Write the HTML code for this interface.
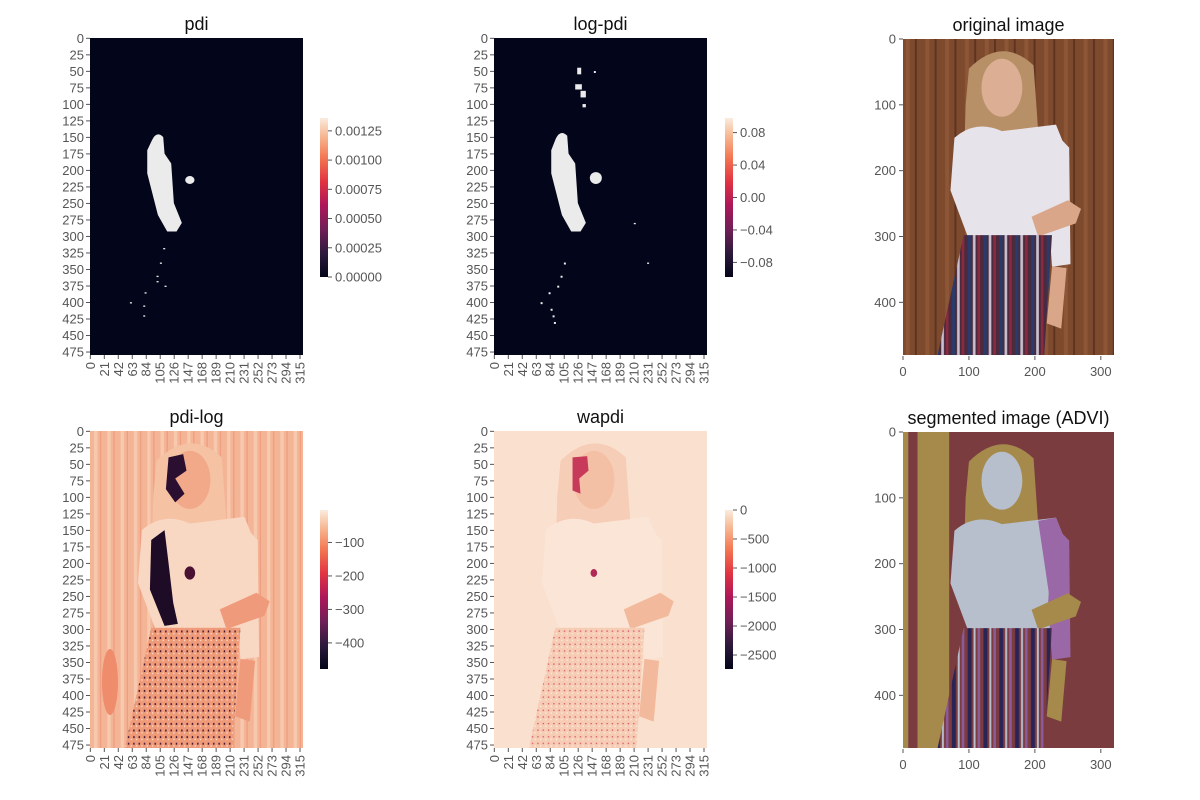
<!DOCTYPE html>
<html><head><meta charset="utf-8"><style>
html,body{margin:0;padding:0;background:#fff;}
svg{display:block;font-family:"Liberation Sans","DejaVu Sans",sans-serif;}
</style></head><body>
<svg id="fig" width="1200" height="800" viewBox="0 0 1200 800" xmlns="http://www.w3.org/2000/svg">
<defs>
<linearGradient id="rocket" x1="0" y1="1" x2="0" y2="0">
<stop offset="0" stop-color="#03051a"/><stop offset="0.15" stop-color="#2d1a3d"/>
<stop offset="0.3" stop-color="#701f57"/><stop offset="0.45" stop-color="#ad1759"/>
<stop offset="0.6" stop-color="#e13342"/><stop offset="0.75" stop-color="#f37651"/>
<stop offset="0.88" stop-color="#f6b48f"/><stop offset="1" stop-color="#faebdd"/>
</linearGradient>
<pattern id="wood" width="30" height="480" patternUnits="userSpaceOnUse">
<rect width="30" height="480" fill="#7d4a2e"/><rect x="4" width="6" height="480" fill="#8c5637"/><rect x="18" width="3" height="480" fill="#5e3420"/>
</pattern>
<pattern id="skirtp" width="24" height="480" patternUnits="userSpaceOnUse">
<rect width="24" height="480" fill="#4a2a3c"/><rect x="2" width="5" height="480" fill="#2a3a6a"/><rect x="10" width="4" height="480" fill="#c8c0d0"/><rect x="17" width="4" height="480" fill="#8a2a40"/>
</pattern>
<pattern id="segskirt" width="24" height="480" patternUnits="userSpaceOnUse">
<rect width="24" height="480" fill="#7b3c40"/><rect x="2" width="6" height="480" fill="#2a2456"/><rect x="11" width="3" height="480" fill="#b7bfcd"/><rect x="17" width="4" height="480" fill="#8a5a9a"/>
</pattern>
<pattern id="peach" width="20" height="480" patternUnits="userSpaceOnUse">
<rect width="20" height="480" fill="#f4b596"/><rect x="6" width="5" height="480" fill="#f7c9ae"/><rect x="15" width="2" height="480" fill="#ef9e80"/>
</pattern>
<pattern id="dots" width="8" height="10" patternUnits="userSpaceOnUse">
<rect width="8" height="10" fill="#ef9a78"/><rect x="1" y="2" width="2" height="3" fill="#3a1030"/><rect x="5" y="6" width="2" height="2" fill="#fbe1d0"/>
</pattern>
<pattern id="wdots" width="8" height="10" patternUnits="userSpaceOnUse">
<rect width="8" height="10" fill="#f6cdb4"/><rect x="1" y="2" width="2" height="2" fill="#d8506a"/><rect x="5" y="6" width="2" height="2" fill="#fdeee2"/>
</pattern>
</defs>
</svg>
<script>
const NS="http://www.w3.org/2000/svg";
const fig=document.getElementById('fig');
// ---- data arrays ----
const heatYTicks=[0,25,50,75,100,125,150,175,200,225,250,275,300,325,350,375,400,425,450,475];
const heatXTicks=[0,21,42,63,84,105,126,147,168,189,210,231,252,273,294,315];
const imgXTicks=[0,100,200,300];
const imgYTicks=[0,100,200,300,400];
const cbPdiTicks=[0.00000,0.00025,0.00050,0.00075,0.00100,0.00125];
const cbPdiRange=[0,0.00136];
const cbLogPdiTicks=[-0.08,-0.04,0.00,0.04,0.08];
const cbLogPdiRange=[-0.098,0.098];
const cbPdiLogTicks=[-400,-300,-200,-100];
const cbPdiLogRange=[-478,-3];
const cbWapdiTicks=[-2500,-2000,-1500,-1000,-500,0];
const cbWapdiRange=[-2741,0];
const imgW=320, imgH=480;

function el(tag,attrs,parent,name,inter){const e=document.createElementNS(NS,tag);for(const k in attrs)e.setAttribute(k,attrs[k]);


(parent||fig).appendChild(e);return e;}
function txt(x,y,s,attrs,parent,name){const t=el('text',Object.assign({x:x,y:y,'font-size':13,fill:'#555'},attrs),parent,name,false);t.textContent=s;return t;}

function panel(title,x0,y0,w,h,name){
  const g=el('g',{},fig,name,false);
  txt(x0+w/2,y0-8,title,{'font-size':18,fill:'#111','text-anchor':'middle'},g,'panel-title');
  const clip=el('clipPath',{id:'c'+name},g,'clip',false);
  el('rect',{x:x0,y:y0,width:w,height:h},clip,'clip-rect',false);
  const inner=el('g',{'clip-path':'url(#c'+name+')'},g,'plot-area',false);
  const d=el('g',{transform:`translate(${x0},${y0}) scale(${w/imgW},${h/imgH})`},inner,'image-content',false);
  return {g,d,x0,y0,w,h};
}
function heatAxes(p){
  const sy=p.h/imgH, sx=p.w/imgW;
  heatYTicks.forEach(v=>{const y=p.y0+(v+0.5)*sy;
    el('line',{x1:p.x0-4,x2:p.x0,y1:y,y2:y,stroke:'#555'},p.g,'y-tick',false);
    txt(p.x0-6,y+4.5,String(v),{'text-anchor':'end'},p.g,'y-tick-label');});
  heatXTicks.forEach(v=>{const x=p.x0+(v+0.5)*sx, y=p.y0+p.h;
    el('line',{x1:x,x2:x,y1:y,y2:y+4,stroke:'#555'},p.g,'x-tick',false);
    txt(0,0,String(v),{'text-anchor':'end',transform:`translate(${x+4.5},${y+7}) rotate(-90)`},p.g,'x-tick-label');});
}
function imgAxes(p){
  const sy=p.h/imgH, sx=p.w/imgW;
  imgYTicks.forEach(v=>{const y=p.y0+v*sy;
    el('line',{x1:p.x0-4,x2:p.x0,y1:y,y2:y,stroke:'#555'},p.g,'y-tick',false);
    txt(p.x0-7,y+4.5,String(v),{'text-anchor':'end'},p.g,'y-tick-label');});
  imgXTicks.forEach(v=>{const x=p.x0+v*sx,y=p.y0+p.h;
    el('line',{x1:x,x2:x,y1:y+1,y2:y+5,stroke:'#555'},p.g,'x-tick',false);
    txt(x,y+21,String(v),{'text-anchor':'middle'},p.g,'x-tick-label');});
}
function colorbar(x,y0,h,ticks,range,fmt,name){
  const g=el('g',{},fig,name,false);
  el('rect',{x:x,y:y0,width:8,height:h,fill:'url(#rocket)'},g,'colorbar-gradient',false);
  ticks.forEach(v=>{const y=y0+h-(v-range[0])/(range[1]-range[0])*h;
    el('line',{x1:x+8,x2:x+12,y1:y,y2:y,stroke:'#555'},g,'colorbar-tick',false);
    txt(x+15,y+4.5,fmt(v).replace('-','\u2212'),{},g,'colorbar-tick-label');});
}
function shapes(d,c){
  el('rect',{x:0,y:0,width:320,height:480,fill:c.bg},d,'background',false);
  if(c.strip) el('rect',{x:0,y:0,width:70,height:480,fill:c.strip},d,'left-strip',false);
  if(c.strip) el('rect',{x:8,y:0,width:14,height:480,fill:c.bg},d,'strip-gap',false);
  el('path',{d:'M100,45 Q150,-5 198,40 L205,140 L175,160 L145,235 L92,205 L95,100 Z',fill:c.hair},d,'hair',false);
  el('path',{d:'M78,150 Q110,122 150,140 L232,130 L252,180 L248,262 L232,302 L100,305 L72,230 Z',fill:c.shirt},d,'shirt',false);
  if(c.shirt2) el('path',{d:'M205,135 L232,130 L252,180 L250,340 L228,345 L222,250 Z',fill:c.shirt2},d,'shirt-side',false);
  el('path',{d:'M228,140 L252,165 L254,342 L226,346 L220,260 Z',fill:c.arm||c.shirt},d,'arm',false);
  el('ellipse',{cx:150,cy:74,rx:31,ry:44,fill:c.face},d,'face',false);
  el('path',{d:'M195,270 L250,245 L270,258 L262,280 L205,300 Z',fill:c.skin},d,'hand',false);
  el('path',{d:'M226,345 L248,348 L240,440 L218,432 Z',fill:c.skin},d,'lower-arm',false);
  el('path',{d:'M92,298 L226,298 L214,482 L52,482 Z',fill:c.skirt},d,'skirt',false);
}
// ---- pdi ----
let p=panel('pdi',90,38,213,317,'panel-pdi');
el('rect',{x:0,y:0,width:320,height:480,fill:'#03051a'},p.d,'background',false);
el('path',{d:'M93,155 Q100,140 110,150 L112,175 L122,190 L126,250 L138,280 L130,293 L116,293 L102,268 L86,205 L86,170 Z',fill:'#ebebeb'},p.d,'high-pdi-region',false);
el('ellipse',{cx:150,cy:215,rx:7,ry:6,fill:'#ebebeb'},p.d,'high-pdi-spot',false);
[[105,340],[100,360],[100,368],[112,375],[82,385],[60,400],[80,405],[80,420],[110,318]].forEach(q=>el('rect',{x:q[0],y:q[1],width:3,height:2,fill:'#ebebeb'},p.d,'speck',false));
heatAxes(p);
colorbar(320,118,159,cbPdiTicks,cbPdiRange,v=>v.toFixed(5),'colorbar-pdi');
// ---- log-pdi ----
p=panel('log-pdi',494,38,213,317,'panel-log-pdi');
el('rect',{x:0,y:0,width:320,height:480,fill:'#03051a'},p.d,'background',false);
el('path',{d:'M93,152 Q100,138 110,148 L112,175 L122,190 L126,250 L138,280 L130,293 L116,293 L102,268 L86,205 L86,170 Z',fill:'#ebebeb'},p.d,'high-logpdi-region',false);
el('ellipse',{cx:153,cy:212,rx:9,ry:9,fill:'#ebebeb'},p.d,'high-logpdi-spot',false);
[[125,45,6,10],[122,70,10,8],[130,80,8,10],[133,100,5,5],[150,50,3,3],[210,280,3,2],[230,340,3,2]].forEach(q=>el('rect',{x:q[0],y:q[1],width:q[2],height:q[3],fill:'#ebebeb'},p.d,'speck',false));
[[105,340],[100,360],[95,375],[82,385],[70,400],[85,410],[88,420],[90,430]].forEach(q=>el('rect',{x:q[0],y:q[1],width:3,height:3,fill:'#ebebeb'},p.d,'speck',false));
heatAxes(p);
colorbar(725,118,159,cbLogPdiTicks,cbLogPdiRange,v=>v.toFixed(2),'colorbar-log-pdi');
// ---- original ----
p=panel('original image',903,39,211,316,'panel-original');
shapes(p.d,{bg:'url(#wood)',hair:'#b89068',shirt:'#e6e3ea',face:'#dcae94',skin:'#d9a68a',skirt:'url(#skirtp)'});
imgAxes(p);
// ---- pdi-log ----
p=panel('pdi-log',90,431,213,317,'panel-pdi-log');
shapes(p.d,{bg:'url(#peach)',hair:'#f6c2a4',shirt:'#f8d7c3',face:'#f2a98a',skin:'#f09a7c',skirt:'url(#dots)'});
el('path',{d:'M118,40 L140,35 L145,60 L128,72 L142,95 L128,108 L114,88 Z',fill:'#2a0f30'},p.d,'dark-face',false);
el('path',{d:'M92,165 L112,150 L118,200 L125,260 L132,292 L112,295 L90,240 Z',fill:'#1e0b26'},p.d,'dark-arm',false);
el('ellipse',{cx:150,cy:215,rx:8,ry:10,fill:'#4a1232'},p.d,'dark-chest',false);
el('ellipse',{cx:30,cy:380,rx:12,ry:50,fill:'#ee8c6c'},p.d,'left-blob',false);
heatAxes(p);
colorbar(320,510,159,cbPdiLogTicks,cbPdiLogRange,v=>String(v),'colorbar-pdi-log');
// ---- wapdi ----
p=panel('wapdi',494,431,213,317,'panel-wapdi');
shapes(p.d,{bg:'#fae1cf',hair:'#f6cdb6',shirt:'#fbe5d6',face:'#f4c0a5',skin:'#f3b99c',skirt:'url(#wdots)'});
el('path',{d:'M118,40 L140,38 L142,60 L128,72 L130,95 L118,90 Z',fill:'#c83a5a'},p.d,'red-face',false);
el('ellipse',{cx:150,cy:215,rx:5,ry:6,fill:'#b02a58'},p.d,'red-chest',false);
heatAxes(p);
colorbar(725,510,159,cbWapdiTicks,cbWapdiRange,v=>String(v),'colorbar-wapdi');
// ---- segmented ----
p=panel('segmented image (ADVI)',903,432,211,316,'panel-segmented');
shapes(p.d,{bg:'#7b3c40',strip:'#a58a4c',hair:'#a58a4c',shirt:'#b7bfcd',shirt2:'#9a68a6',arm:'#9a68a6',face:'#b7bfcd',skin:'#a58a4c',skirt:'url(#segskirt)'});
imgAxes(p);
</script>
</body></html>
